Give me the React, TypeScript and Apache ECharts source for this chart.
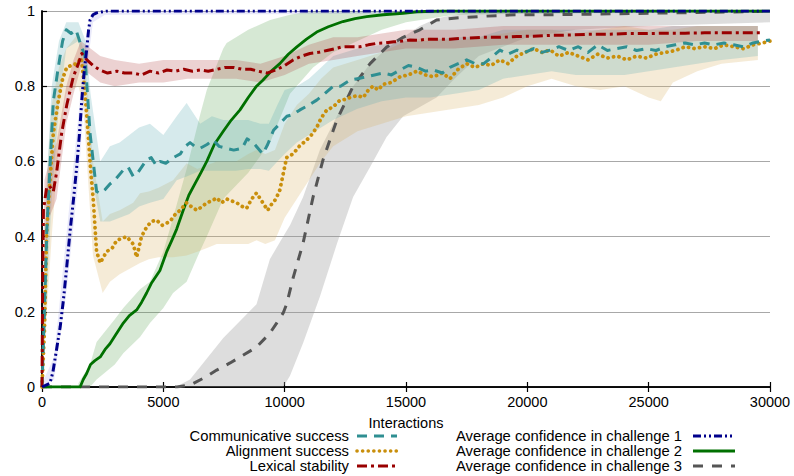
import React, { useEffect, useRef } from "react";
import * as echarts from "echarts";

// ---- Data ----
const commSuccess: number[][] = [
  [0, 0], [100, 0.2], [200, 0.42], [330, 0.585], [466, 0.76], [670, 0.85], [850, 0.92], [1000, 0.95], [1200, 0.94], [1400, 0.95], [1550, 0.92],
  [1770, 0.88], [1980, 0.675], [2250, 0.52], [2400, 0.515], [2600, 0.525], [2800, 0.54], [3000, 0.55], [3350, 0.577], [3550, 0.585], [3760, 0.56],
  [3950, 0.57], [4310, 0.604], [4500, 0.61], [4700, 0.59], [4860, 0.6], [5100, 0.595], [5410, 0.61], [5700, 0.62], [5900, 0.64], [6100, 0.65],
  [6300, 0.64], [6520, 0.635], [6800, 0.645], [7050, 0.657], [7300, 0.64], [7600, 0.635], [7900, 0.63], [8250, 0.635], [8450, 0.66], [8700, 0.65],
  [9100, 0.62], [9300, 0.645], [9540, 0.683], [9800, 0.70], [10090, 0.72], [10350, 0.725], [10630, 0.737], [11000, 0.75], [11320, 0.763], [11650, 0.78],
  [12000, 0.80], [12300, 0.80], [12690, 0.816], [13000, 0.82], [13380, 0.825], [13700, 0.83], [14060, 0.835], [14400, 0.83], [14750, 0.843], [15100, 0.855],
  [15450, 0.85], [15800, 0.84], [16140, 0.843], [16500, 0.835], [16810, 0.85], [17150, 0.86], [17500, 0.87], [17850, 0.86], [18200, 0.86], [18500, 0.875],
  [18870, 0.896], [19200, 0.885], [19570, 0.896], [19900, 0.89], [20260, 0.9], [20600, 0.89], [20950, 0.896], [21300, 0.905], [21700, 0.895], [22100, 0.905],
  [22500, 0.89], [22900, 0.91], [23300, 0.895], [23700, 0.9], [24100, 0.905], [24500, 0.895], [24900, 0.9], [25300, 0.895], [25700, 0.905], [26100, 0.91],
  [26500, 0.915], [26900, 0.91], [27300, 0.915], [27700, 0.91], [28100, 0.915], [28500, 0.91], [28900, 0.905], [29300, 0.915], [29700, 0.92], [30000, 0.923],
];

const alignSuccess: number[][] = [
  [0, 0], [100, 0.15], [190, 0.41], [330, 0.55], [466, 0.675], [670, 0.76], [850, 0.82], [1020, 0.85], [1200, 0.855], [1430, 0.86], [1620, 0.875],
  [1750, 0.8], [1900, 0.675], [2000, 0.58], [2110, 0.5], [2250, 0.36], [2400, 0.33], [2660, 0.36], [2900, 0.37], [3080, 0.39], [3490, 0.40],
  [3760, 0.38], [3900, 0.345], [4100, 0.40], [4310, 0.425], [4500, 0.44], [4720, 0.444], [4950, 0.43], [5270, 0.44], [5500, 0.46], [5690, 0.47],
  [5960, 0.49], [6150, 0.48], [6380, 0.47], [6600, 0.48], [6790, 0.49], [7000, 0.495], [7200, 0.503], [7400, 0.49], [7610, 0.50], [8020, 0.49],
  [8250, 0.48], [8430, 0.475], [8640, 0.50], [8840, 0.516], [9100, 0.49], [9300, 0.47], [9450, 0.485], [9640, 0.50], [9800, 0.524], [10080, 0.61],
  [10350, 0.62], [10600, 0.64], [10910, 0.657], [11100, 0.67], [11320, 0.69], [11500, 0.715], [11740, 0.737], [12000, 0.745], [12280, 0.763], [12500, 0.765],
  [12690, 0.77], [13000, 0.775], [13240, 0.77], [13450, 0.79], [13640, 0.80], [13850, 0.79], [14060, 0.805], [14400, 0.81], [14750, 0.825], [15100, 0.83],
  [15450, 0.84], [15800, 0.83], [16140, 0.825], [16500, 0.835], [16810, 0.82], [17150, 0.845], [17500, 0.86], [17850, 0.85], [18200, 0.86], [18500, 0.855],
  [18870, 0.87], [19200, 0.86], [19570, 0.88], [19900, 0.89], [20260, 0.9], [20600, 0.89], [20950, 0.896], [21300, 0.88], [21700, 0.89], [22100, 0.88],
  [22500, 0.87], [22900, 0.885], [23300, 0.875], [23700, 0.88], [24100, 0.87], [24500, 0.88], [24900, 0.875], [25300, 0.885], [25700, 0.89], [26100, 0.895],
  [26500, 0.905], [26900, 0.9], [27300, 0.905], [27700, 0.9], [28100, 0.91], [28500, 0.905], [28900, 0.9], [29300, 0.91], [29700, 0.915], [30000, 0.92],
];

const lexStability: number[][] = [
  [0, 0], [30, 0.3], [60, 0.47], [190, 0.53], [300, 0.535], [466, 0.52], [600, 0.57], [810, 0.675], [1020, 0.75], [1290, 0.825], [1500, 0.86],
  [1640, 0.887], [1850, 0.87], [2100, 0.855], [2390, 0.843], [2700, 0.835], [3080, 0.84], [3400, 0.835], [3760, 0.835], [4100, 0.83], [4450, 0.84],
  [4800, 0.835], [5150, 0.843], [5500, 0.84], [5840, 0.845], [6200, 0.84], [6520, 0.843], [6850, 0.84], [7210, 0.845], [7550, 0.85], [7900, 0.85],
  [8250, 0.845], [8600, 0.845], [8900, 0.84], [9270, 0.835], [9700, 0.845], [10000, 0.855], [10350, 0.87], [10700, 0.88], [11040, 0.887], [11400, 0.89],
  [11740, 0.895], [12100, 0.9], [12400, 0.905], [12750, 0.905], [13100, 0.905], [13450, 0.91], [13800, 0.914], [14150, 0.915], [14500, 0.918], [14850, 0.92],
  [15160, 0.923], [15500, 0.922], [15850, 0.925], [16300, 0.925], [16810, 0.925], [17500, 0.928], [18170, 0.93], [18900, 0.93], [19570, 0.932], [20250, 0.933],
  [20950, 0.935], [21700, 0.936], [22500, 0.938], [23300, 0.938], [24100, 0.94], [24900, 0.94], [25700, 0.941], [26500, 0.941], [27300, 0.942], [28100, 0.942],
  [28900, 0.942], [29700, 0.942],
];

const confChallenge1: number[][] = [
  [0, 0], [330, 0.01], [450, 0.04], [600, 0.1], [750, 0.16], [880, 0.23], [1020, 0.32], [1150, 0.41], [1300, 0.5], [1430, 0.585], [1540, 0.67],
  [1640, 0.763], [1740, 0.84], [1840, 0.896], [1920, 0.95], [1980, 0.976], [2100, 0.99], [2250, 0.995], [2660, 1.0], [30000, 1.0],
];

const confChallenge2: number[][] = [
  [0, 0], [1570, 0], [1700, 0.02], [1840, 0.036], [2000, 0.06], [2180, 0.07], [2400, 0.08], [2600, 0.1], [2800, 0.115], [3050, 0.14], [3350, 0.17],
  [3600, 0.19], [3900, 0.205], [4100, 0.225], [4310, 0.25], [4500, 0.275], [4860, 0.31], [5140, 0.36], [5350, 0.39], [5550, 0.42],
  [5820, 0.47], [6050, 0.51], [6300, 0.54], [6550, 0.57], [6790, 0.60], [7100, 0.645], [7470, 0.68], [7800, 0.71], [8160, 0.737], [8500, 0.77],
  [8840, 0.80], [9100, 0.816], [9450, 0.84], [9800, 0.86], [10150, 0.885], [10490, 0.904], [10900, 0.925], [11320, 0.944], [11800, 0.958], [12400, 0.972],
  [12900, 0.98], [13380, 0.985], [14060, 0.99], [14880, 0.994], [15450, 0.998], [16500, 1.0], [30000, 1.0],
];

const confChallenge3: number[][] = [
  [0, 0], [5560, 0], [6100, 0.005], [6700, 0.025], [7200, 0.045], [7750, 0.064], [8300, 0.085], [8840, 0.106], [9390, 0.143], [9670, 0.17], [9940, 0.197],
  [10080, 0.22], [10360, 0.293], [10760, 0.383], [11170, 0.505], [11580, 0.604], [12150, 0.71], [12820, 0.8], [13520, 0.86], [14200, 0.904], [14880, 0.93],
  [15570, 0.95], [16260, 0.976], [17200, 0.982], [18200, 0.986], [19500, 0.99], [21000, 0.99], [23000, 0.992], [25000, 0.994], [27000, 0.996], [29000, 0.998],
  [30000, 1.0],
];

// bands: [x, low, high]
const commBand: number[][] = [
  [0, 0, 0.02], [200, 0.25, 0.55], [400, 0.5, 0.8], [700, 0.75, 0.92], [1000, 0.9, 0.97], [1500, 0.92, 0.97], [1800, 0.8, 0.92], [2000, 0.58, 0.78],
  [2400, 0.44, 0.6], [2800, 0.44, 0.64], [3200, 0.45, 0.65], [3600, 0.46, 0.67], [4000, 0.48, 0.69], [4450, 0.49, 0.70], [5000, 0.5, 0.67], [5550, 0.55, 0.72],
  [5960, 0.56, 0.755], [6520, 0.575, 0.70], [7000, 0.575, 0.72], [7470, 0.575, 0.71], [8000, 0.575, 0.71], [8500, 0.58, 0.71], [9000, 0.58, 0.70], [9350, 0.575, 0.70],
  [9700, 0.6, 0.75], [10000, 0.62, 0.79], [10500, 0.65, 0.80], [11000, 0.67, 0.82], [11500, 0.69, 0.85], [12000, 0.71, 0.88], [13000, 0.74, 0.9], [14000, 0.76, 0.91],
  [15000, 0.77, 0.92], [16000, 0.77, 0.92], [17000, 0.78, 0.93], [18000, 0.79, 0.93], [19000, 0.82, 0.95], [20000, 0.83, 0.95], [21000, 0.84, 0.95], [22000, 0.83, 0.95],
  [23000, 0.83, 0.95], [24000, 0.83, 0.95], [25000, 0.84, 0.95], [26000, 0.85, 0.96], [27000, 0.86, 0.96], [28000, 0.87, 0.96], [29500, 0.88, 0.96],
];

const alignBand: number[][] = [
  [0, 0, 0.02], [200, 0.2, 0.55], [400, 0.4, 0.75], [700, 0.65, 0.85], [1000, 0.78, 0.9], [1500, 0.8, 0.94], [1700, 0.75, 0.9], [1900, 0.55, 0.78],
  [2100, 0.35, 0.6], [2500, 0.25, 0.44], [2800, 0.28, 0.46], [3200, 0.3, 0.47], [3760, 0.32, 0.49], [4040, 0.33, 0.515], [4400, 0.34, 0.52], [4800, 0.345, 0.53],
  [5400, 0.345, 0.55], [5960, 0.35, 0.595], [6400, 0.36, 0.58], [6800, 0.37, 0.59], [7200, 0.38, 0.6], [7600, 0.38, 0.6], [8000, 0.38, 0.6], [8500, 0.38, 0.62],
  [8840, 0.39, 0.63], [9200, 0.38, 0.62], [9600, 0.39, 0.63], [10000, 0.45, 0.7], [10500, 0.5, 0.75], [11000, 0.55, 0.78], [11500, 0.6, 0.82], [12000, 0.64, 0.85],
  [13000, 0.68, 0.87], [14000, 0.7, 0.89], [15000, 0.72, 0.92], [16000, 0.73, 0.93], [17000, 0.74, 0.92], [18000, 0.75, 0.93], [19000, 0.77, 0.94], [20000, 0.8, 0.95],
  [21000, 0.82, 0.95], [22000, 0.8, 0.94], [23000, 0.79, 0.95], [24000, 0.8, 0.96], [25000, 0.77, 0.95], [25500, 0.76, 0.95], [26000, 0.81, 0.95], [27000, 0.84, 0.96],
  [28000, 0.86, 0.96], [29500, 0.87, 0.96],
];

const lexBand: number[][] = [
  [0, 0, 0.05], [100, 0.3, 0.55], [300, 0.45, 0.6], [600, 0.5, 0.65], [1000, 0.7, 0.8], [1300, 0.78, 0.87], [1600, 0.85, 0.92], [2000, 0.83, 0.9],
  [2400, 0.81, 0.88], [3000, 0.8, 0.87], [4000, 0.81, 0.86], [5000, 0.81, 0.87], [6000, 0.82, 0.87], [7000, 0.82, 0.87], [8000, 0.82, 0.87], [9000, 0.81, 0.86],
  [10000, 0.83, 0.88], [11000, 0.86, 0.91], [12000, 0.87, 0.93], [13000, 0.88, 0.93], [14000, 0.89, 0.94], [15000, 0.9, 0.95], [17000, 0.9, 0.95], [19000, 0.91, 0.96],
  [21000, 0.91, 0.96], [23000, 0.91, 0.96], [25000, 0.91, 0.96], [27000, 0.92, 0.96], [29500, 0.92, 0.96],
];

const conf1Band: number[][] = [
  [0, 0, 0.01], [500, 0.02, 0.08], [1000, 0.25, 0.4], [1500, 0.55, 0.72], [1800, 0.82, 0.93], [2100, 0.97, 1], [2600, 0.99, 1], [30000, 0.995, 1],
];

const conf2Band: number[][] = [
  [1500, 0, 0.01], [1980, 0, 0.06], [2250, 0.02, 0.12], [3000, 0.06, 0.18], [3350, 0.09, 0.21], [4040, 0.133, 0.26], [4450, 0.17, 0.28], [5000, 0.21, 0.36],
  [5400, 0.25, 0.45], [5960, 0.28, 0.58], [6500, 0.36, 0.72], [6790, 0.4, 0.79], [7470, 0.5, 0.9], [7610, 0.51, 0.915], [8500, 0.57, 0.95], [9400, 0.65, 0.976],
  [10220, 0.78, 0.99], [11170, 0.85, 1], [12000, 0.89, 1], [13000, 0.92, 1], [14000, 0.95, 1], [15000, 0.97, 1], [17000, 0.99, 1], [30000, 1, 1],
];

const conf3Band: number[][] = [
  [5500, 0, 0], [6100, 0, 0.02], [7470, 0, 0.13], [8840, 0, 0.22], [9390, 0, 0.34], [9940, 0, 0.40], [10220, 0.03, 0.43], [10760, 0.117, 0.505],
  [11450, 0.24, 0.63], [12150, 0.38, 0.72], [12820, 0.505, 0.8], [13520, 0.585, 0.86], [14200, 0.665, 0.9], [14880, 0.72, 0.93], [15570, 0.745, 0.96], [16260, 0.77, 0.98],
  [17000, 0.82, 0.99], [18000, 0.88, 1], [20000, 0.93, 1], [22000, 0.95, 1], [25000, 0.96, 1], [30000, 0.97, 1],
];

const yTicks = [0, 0.2, 0.4, 0.6, 0.8, 1];
const xTicks = [0, 5000, 10000, 15000, 20000, 25000, 30000];

const FONT = "'Liberation Sans', Arial, Helvetica, sans-serif";

function bandSeries(band: number[][], fill: string) {
  return {
    type: "custom",
    coordinateSystem: "cartesian2d",
    silent: true,
    clip: true,
    z: 1,
    data: [[band[0][0], band[0][1]]],
    renderItem: (_params: any, api: any) => {
      const pts: number[][] = [];
      for (let i = 0; i < band.length; i++) pts.push(api.coord([band[i][0], band[i][2]]));
      for (let i = band.length - 1; i >= 0; i--) pts.push(api.coord([band[i][0], band[i][1]]));
      return { type: "polygon", shape: { points: pts }, style: { fill, stroke: "none" } };
    },
  };
}

function lineSeries(name: string, data: number[][], color: string, type: any, width = 2.6, cap = "butt") {
  return {
    name,
    type: "line",
    data,
    showSymbol: false,
    symbol: "none",
    z: 3,
    clip: true,
    lineStyle: { color, width, type, cap, join: "round" },
  };
}

const C_TEAL = "#2f8f92";
const C_GOLD = "#c98f0c";
const C_RED = "#990000";
const C_NAVY = "#00008b";
const C_GREEN = "#007000";
const C_GRAY = "#555555";

const DASH_TEAL = [10, 7];
const DOT_GOLD = [0.1, 5.5];
const DASH_RED = [10, 4, 3, 4];
const DASH_NAVY = [8, 3, 2, 3, 2, 3];
const DASH_GRAY = [10, 9];

export default function App() {
  const ref = useRef<HTMLDivElement>(null);
  useEffect(() => {
    if (!ref.current) return;
    const chart = echarts.init(ref.current, undefined, { renderer: "svg" });

    const legendLeft = [
      { text: "Communicative success", y: 436, color: C_TEAL, dash: DASH_TEAL, cap: "butt", w: 3 },
      { text: "Alignment success", y: 451, color: C_GOLD, dash: DOT_GOLD, cap: "round", w: 3.6 },
      { text: "Lexical stability", y: 466, color: C_RED, dash: DASH_RED, cap: "butt", w: 3 },
    ];
    const legendRight = [
      { text: "Average confidence in challenge 1", y: 436, color: C_NAVY, dash: DASH_NAVY, cap: "butt", w: 3 },
      { text: "Average confidence in challenge 2", y: 451, color: C_GREEN, dash: "solid", cap: "butt", w: 3 },
      { text: "Average confidence in challenge 3", y: 466, color: C_GRAY, dash: DASH_GRAY, cap: "butt", w: 3 },
    ];
    const graphics: any[] = [];
    legendLeft.forEach((l) => {
      graphics.push({ type: "text", x: 349, y: l.y, style: { text: l.text, fill: "#000", font: `14.8px ${FONT}`, align: "right", verticalAlign: "middle" } });
      graphics.push({ type: "line", shape: { x1: 357, y1: l.y, x2: 397, y2: l.y }, style: { stroke: l.color, lineWidth: l.w, lineDash: l.dash, lineCap: l.cap } });
    });
    legendRight.forEach((l) => {
      graphics.push({ type: "text", x: 456, y: l.y, style: { text: l.text, fill: "#000", font: `14.8px ${FONT}`, align: "left", verticalAlign: "middle" } });
      graphics.push({ type: "line", shape: { x1: 693, y1: l.y, x2: 735, y2: l.y }, style: { stroke: l.color, lineWidth: l.w, lineDash: l.dash === "solid" ? null : l.dash, lineCap: l.cap } });
    });

    const axisLabel = { color: "#000", fontSize: 14.5, fontFamily: FONT };
    chart.setOption({
      animation: false,
      backgroundColor: "#fff",
      grid: { left: 42, right: 24, top: 11, bottom: 89, containLabel: false },
      xAxis: [
        {
          type: "value", min: xTicks[0], max: xTicks[xTicks.length - 1], interval: 5000,
          name: "Interactions", nameLocation: "middle", nameGap: 28,
          nameTextStyle: { color: "#000", fontSize: 14.5, fontFamily: FONT },
          axisLine: { show: true, lineStyle: { color: "#000", width: 1.5 } },
          axisTick: { show: true, inside: true, length: 5, lineStyle: { color: "#000", width: 1.2 } },
          axisLabel: { ...axisLabel, margin: 7, formatter: (v: number) => String(v) },
          splitLine: { show: false },
        },
        {
          type: "value", position: "top", min: xTicks[0], max: xTicks[xTicks.length - 1], interval: 5000,
          axisLine: { show: true, lineStyle: { color: "#000", width: 1.5 } },
          axisTick: { show: true, inside: true, length: 5, lineStyle: { color: "#000", width: 1.2 } },
          axisLabel: { show: false },
          splitLine: { show: false },
        },
      ],
      yAxis: [
        {
          type: "value", min: yTicks[0], max: yTicks[yTicks.length - 1], interval: 0.2,
          axisLine: { show: true, lineStyle: { color: "#000", width: 1.5 } },
          axisTick: { show: true, inside: true, length: 5, lineStyle: { color: "#000", width: 1.2 } },
          axisLabel: { ...axisLabel, margin: 7, formatter: (v: number) => String(Math.round(v * 10) / 10) },
          splitLine: { show: true, lineStyle: { color: "#a8a8a8", width: 1 } },
        },
        {
          type: "value", position: "right", min: 0, max: 1, interval: 0.2,
          axisLine: { show: true, lineStyle: { color: "#000", width: 1.5 } },
          axisTick: { show: false },
          axisLabel: { show: false },
          splitLine: { show: false },
        },
      ],
      graphic: graphics,
      series: [
        bandSeries(conf3Band, "rgba(150,150,150,0.32)"),
        bandSeries(conf2Band, "rgba(70,150,60,0.22)"),
        bandSeries(alignBand, "rgba(215,175,95,0.25)"),
        bandSeries(commBand, "rgba(90,170,180,0.25)"),
        bandSeries(lexBand, "rgba(170,50,50,0.22)"),
        bandSeries(conf1Band, "rgba(110,110,220,0.15)"),
        lineSeries("Average confidence in challenge 3", confChallenge3, C_GRAY, DASH_GRAY, 3),
        lineSeries("Average confidence in challenge 2", confChallenge2, C_GREEN, "solid", 2.8),
        lineSeries("Alignment success", alignSuccess, C_GOLD, DOT_GOLD, 3.8, "round"),
        lineSeries("Communicative success", commSuccess, C_TEAL, DASH_TEAL, 3),
        lineSeries("Lexical stability", lexStability, C_RED, DASH_RED, 3),
        lineSeries("Average confidence in challenge 1", confChallenge1, C_NAVY, DASH_NAVY, 3),
      ],
    });
    return () => chart.dispose();
  }, []);
  return <div ref={ref} style={{ width: 794, height: 476, position: "absolute", left: 0, top: 0 }} />;
}
